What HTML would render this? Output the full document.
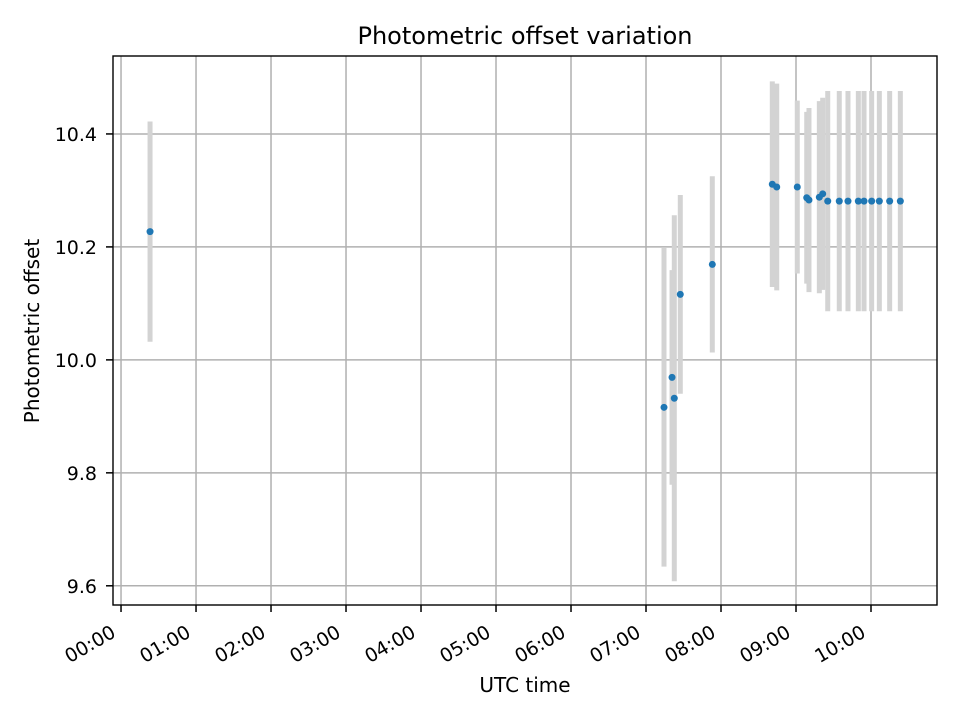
<!DOCTYPE html>
<html><head><meta charset="utf-8"><style>
html,body{margin:0;padding:0;background:#fff;}
svg{display:block;font-family:"DejaVu Sans","Liberation Sans",sans-serif;}
</style></head><body>
<svg id="chart" width="960" height="720" viewBox="0 0 960 720" xmlns="http://www.w3.org/2000/svg">
<rect width="960" height="720" fill="#fff"/>
<g id="grid"></g>
<g id="errs"></g>
<g id="pts"></g>
<rect x="113" y="56" width="824" height="549" fill="none" stroke="#000" stroke-width="1.4"/>
<g id="axes"></g>
<text x="525" y="44" text-anchor="middle" font-size="24">Photometric offset variation</text>
<text x="525" y="692" text-anchor="middle" font-size="20">UTC time</text>
<text transform="translate(39,331) rotate(-90)" text-anchor="middle" font-size="20">Photometric offset</text>
</svg>
<script>
// times in hours UTC
const times = [0.387, 7.24, 7.347, 7.377, 7.457, 7.884, 8.684, 8.743, 9.017, 9.143, 9.173, 9.311, 9.356, 9.423, 9.577, 9.693, 9.831, 9.907, 10.009, 10.111, 10.249, 10.391];
const offsets = [10.227, 9.916, 9.969, 9.932, 10.116, 10.169, 10.311, 10.306, 10.306, 10.287, 10.283, 10.288, 10.294, 10.281, 10.281, 10.281, 10.281, 10.281, 10.281, 10.281, 10.281, 10.281];
const errors = [0.195, 0.282, 0.19, 0.324, 0.176, 0.156, 0.182, 0.183, 0.153, 0.152, 0.163, 0.17, 0.17, 0.195, 0.195, 0.195, 0.195, 0.195, 0.195, 0.195, 0.195, 0.195];
const xTicks = [0,1,2,3,4,5,6,7,8,9,10];
const xTickLabels = ["00:00","01:00","02:00","03:00","04:00","05:00","06:00","07:00","08:00","09:00","10:00"];
const yTicks = [9.6, 9.8, 10.0, 10.2, 10.4];
const yTickLabels = ["9.6","9.8","10.0","10.2","10.4"];

const X0=113,X1=937,Y0=56,Y1=605;
const xMin=-0.107,xMax=10.88,yMin=9.566,yMax=10.538;
const xs=t=>X0+(t-xMin)/(xMax-xMin)*(X1-X0);
const ys=v=>Y1-(v-yMin)/(yMax-yMin)*(Y1-Y0);
const NS="http://www.w3.org/2000/svg";
function mk(tag,attrs,parent){const e=document.createElementNS(NS,tag);for(const k in attrs)e.setAttribute(k,attrs[k]);parent.appendChild(e);return e;}
const grid=document.getElementById('grid'),axes=document.getElementById('axes'),errs=document.getElementById('errs'),pts=document.getElementById('pts');
xTicks.forEach((t,i)=>{
  const x=xs(t);
  const g=mk('line',{x1:x,x2:x,y1:Y0,y2:Y1,stroke:'#b0b0b0','stroke-width':1.5},grid);
  
  
  const tk=mk('line',{x1:x,x2:x,y1:Y1,y2:Y1+7,stroke:'#000','stroke-width':1.5},axes);
  
  
  const lb=mk('text',{transform:`translate(${x-4},${Y1+31}) rotate(-30)`,'text-anchor':'end','font-size':19},axes);
  lb.textContent=xTickLabels[i];
  
  
});
yTicks.forEach((v,i)=>{
  const y=ys(v);
  const g=mk('line',{x1:X0,x2:X1,y1:y,y2:y,stroke:'#b0b0b0','stroke-width':1.5},grid);
  
  
  const tk=mk('line',{x1:X0-7,x2:X0,y1:y,y2:y,stroke:'#000','stroke-width':1.5},axes);
  
  
  const lb=mk('text',{x:X0-16,y:y+7,'text-anchor':'end','font-size':19},axes);
  lb.textContent=yTickLabels[i];
  
  
});
times.forEach((t,i)=>{
  const x=xs(t);
  const e=mk('line',{x1:x,x2:x,y1:ys(offsets[i]+errors[i]),y2:ys(offsets[i]-errors[i]),stroke:'#d3d3d3','stroke-width':5},errs);
  
  
  const c=mk('circle',{cx:x,cy:ys(offsets[i]),r:3.5,fill:'#1f77b4'},pts);
  
  
});
</script>
</body></html>
